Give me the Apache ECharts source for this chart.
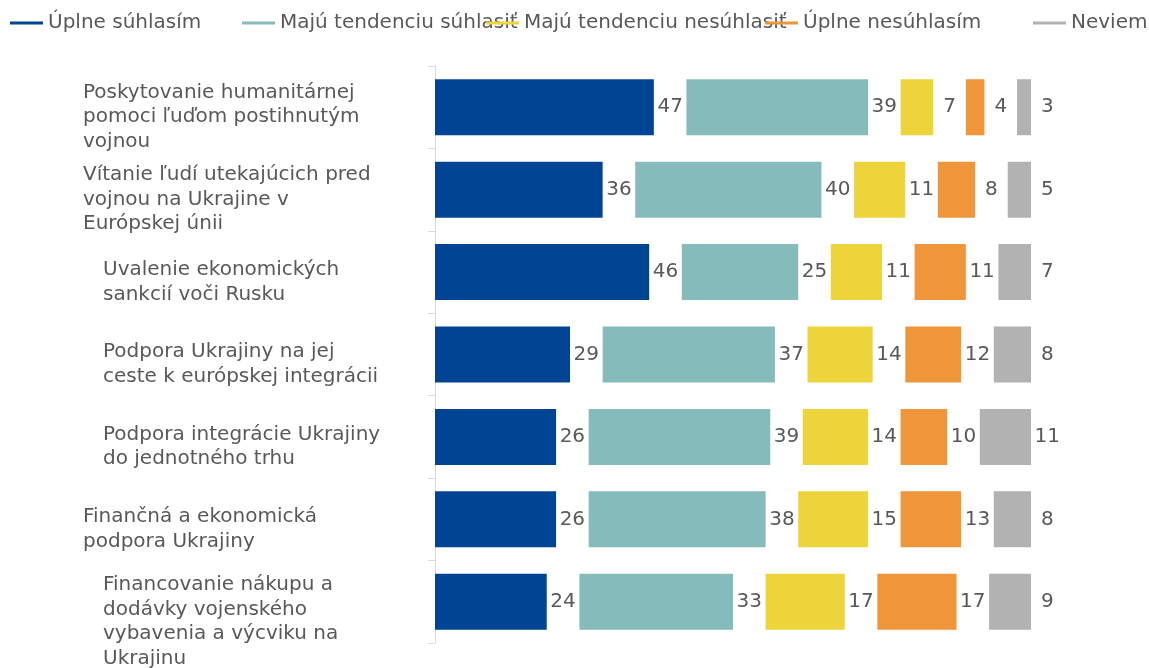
<!DOCTYPE html>
<html>
<head>
<meta charset="utf-8">
<script src="https://cdn.jsdelivr.net/npm/echarts@6/dist/echarts.min.js"></script>
<style>
  html, body { margin: 0; padding: 0; background: #fff; }
  #main { width: 1149px; height: 668px; }
</style>
</head>
<body>
<div id="main"></div>
<script type="text/javascript">
    // data (percent)
    var categories = [
        'Poskytovanie humanitárnej\npomoci ľuďom postihnutým\nvojnou',
        'Vítanie ľudí utekajúcich pred\nvojnou na Ukrajine v\nEurópskej únii',
        'Uvalenie ekonomických\nsankcií voči Rusku',
        'Podpora Ukrajiny na jej\nceste k európskej integrácii',
        'Podpora integrácie Ukrajiny\ndo jednotného trhu',
        'Finančná a ekonomická\npodpora Ukrajiny',
        'Financovanie nákupu a\ndodávky vojenského\nvybavenia a výcviku na\nUkrajinu'
    ];
    var indented = [false, false, true, true, true, false, true];
    var seriesNames = ['Úplne súhlasím', 'Majú tendenciu súhlasiť', 'Majú tendenciu nesúhlasiť', 'Úplne nesúhlasím', 'Neviem'];
    var uplneSuhlasim    = [47, 36, 46, 29, 26, 26, 24];
    var tendSuhlasit     = [39, 40, 25, 37, 39, 38, 33];
    var tendNesuhlasit   = [7, 11, 11, 14, 14, 15, 17];
    var uplneNesuhlasim  = [4, 8, 11, 12, 10, 13, 17];
    var neviem           = [3, 5, 7, 8, 11, 8, 9];
    var values = [uplneSuhlasim, tendSuhlasit, tendNesuhlasit, uplneNesuhlasim, neviem];
    var colors = ['#004494', '#85BBBB', '#EDD43B', '#F0963A', '#B2B2B2'];

    var GAP = 7; // empty room after each segment where its number sits
    var txt = '#595959';
    var font = 'DejaVu Sans';
    var fs = 20;

    var series = [];
    for (var i = 0; i < values.length; i++) {
        series.push({
            name: seriesNames[i],
            type: 'bar',
            stack: 'all',
            barWidth: 56,
            itemStyle: { color: colors[i] },
            emphasis: { disabled: true },
            data: values[i]
        });
        (function (k) {
            series.push({
                name: 'gap' + k,
                type: 'bar',
                stack: 'all',
                barWidth: 56,
                itemStyle: { color: 'rgba(0,0,0,0)' },
                emphasis: { disabled: true },
                label: {
                    show: true,
                    position: 'inside',
                    color: txt,
                    fontFamily: font,
                    fontSize: fs,
                    formatter: function (p) { return values[k][p.dataIndex]; }
                },
                data: values[k].map(function () { return GAP; })
            });
        })(i);
    }

    function catLabel(indent) {
        return function (v, idx) {
            if (indented[idx] !== indent) return '';
            var lines = v.split('\n').map(function (s) { return '{t|' + s + '}'; });
            var sp = lines.length > 3 ? '{sp2| }' : '{sp| }';
            return sp + '\n' + lines.join('\n');
        };
    }
    function yAxis(indent, margin) {
        return {
            type: 'category',
            position: 'left',
            inverse: true,
            data: categories,
            axisLine: { show: !indent, lineStyle: { color: '#D9D9D9' } },
            axisTick: { show: !indent, length: 7, lineStyle: { color: '#D9D9D9' } },
            axisLabel: {
                margin: margin,
                align: 'left',
                color: txt,
                fontFamily: font,
                fontSize: fs,
                interval: 0,
                formatter: catLabel(indent),
                rich: {
                    t: { lineHeight: 24.5, fontSize: fs, fontFamily: font, color: txt },
                    sp: { lineHeight: 20, fontSize: 2 },
                    sp2: { lineHeight: 40, fontSize: 2 }
                }
            }
        };
    }

    var legendLefts = [10, 242, 486, 765, 1033];
    var legends = seriesNames.map(function (n, i) {
        return {
            data: [n],
            left: legendLefts[i],
            top: 13,
            padding: 0,
            icon: 'rect',
            itemWidth: 33,
            itemHeight: 3,
            selectedMode: false,
            textStyle: { color: txt, fontFamily: font, fontSize: fs }
        };
    });

    var myChart = echarts.init(document.getElementById('main'));
    var option = {
        animation: false,
        legend: legends,
        grid: { left: 435, top: 66, width: 628.6, height: 577, containLabel: false, outerBoundsMode: 'none' },
        xAxis: { type: 'value', min: 0, max: 135, show: false },
        yAxis: [yAxis(false, 352), yAxis(true, 332)],
        series: series
    };
    myChart.setOption(option);
</script>
</body>
</html>
